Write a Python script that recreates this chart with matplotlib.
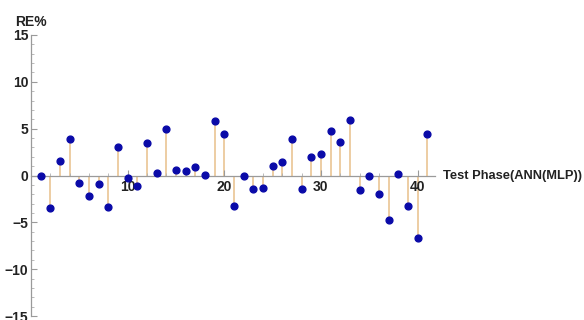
import numpy as np
import matplotlib
matplotlib.use("Agg")
import matplotlib.pyplot as plt
from matplotlib.ticker import MultipleLocator

plt.rcParams['font.family'] = ['Liberation Sans', 'DejaVu Sans']

# relative error per test sample
sample = list(range(1, 42))
re_pct = [0.0, -3.44, 1.52, 3.90, -0.78, -2.20, -0.96, -3.37, 3.05, -0.25,
          -1.13, 3.51, 0.28, 4.96, 0.57, 0.46, 0.96, 0.10, 5.82, 4.40,
          -3.23, -0.10, -1.45, -1.35, 1.06, 1.42, 3.90, -1.45, 1.99, 2.27,
          4.75, 3.62, 5.89, -1.52, -0.10, -1.99, -4.79, 0.18, -3.26, -6.67,
          4.40]
xticks = [10, 20, 30, 40]
yticks = [-15, -10, -5, 0, 5, 10, 15]

fig = plt.figure(figsize=(5.84, 3.2), dpi=100)
ax = fig.add_axes([31 / 584, 4 / 320, (435 - 31) / 584, (316 - 35) / 320])

ax.vlines(sample, 0, re_pct, color='#e8c08a', linewidth=1.1, zorder=1)
ax.scatter(sample, re_pct, s=24, color='#0a0aa8', zorder=3)

ax.set_xlim(0, 41.8)
ax.set_ylim(-15, 15)

for s in ['top', 'right']:
    ax.spines[s].set_visible(False)
ax.spines['bottom'].set_position(('data', 0))
ax.spines['left'].set_position(('data', 0))
for s in ['bottom', 'left']:
    ax.spines[s].set_color('#9a9a9a')
    ax.spines[s].set_linewidth(0.9)

ax.set_xticks(xticks)
ax.set_yticks(yticks)
ax.xaxis.set_minor_locator(MultipleLocator(2))
ax.yaxis.set_minor_locator(MultipleLocator(1))
ax.tick_params(axis='both', which='major', direction='in', length=4,
               color='#9a9a9a', labelsize=10, labelcolor='#222222')
ax.tick_params(axis='both', which='minor', direction='in', length=2,
               color='#b0b0b0')
ax.tick_params(axis='x', pad=3)
ax.tick_params(axis='y', pad=2)
for lbl in ax.get_xticklabels() + ax.get_yticklabels():
    lbl.set_fontweight('bold')

ax.text(42.6, 0, 'Test Phase(ANN(MLP))', fontsize=9.3, fontweight='bold',
        color='#222222', va='center', ha='left', clip_on=False)
ax.text(0, 15.6, 'RE%', fontsize=10, fontweight='bold', color='#222222',
        va='bottom', ha='center', clip_on=False)

fig.savefig('out.png', dpi=100)
